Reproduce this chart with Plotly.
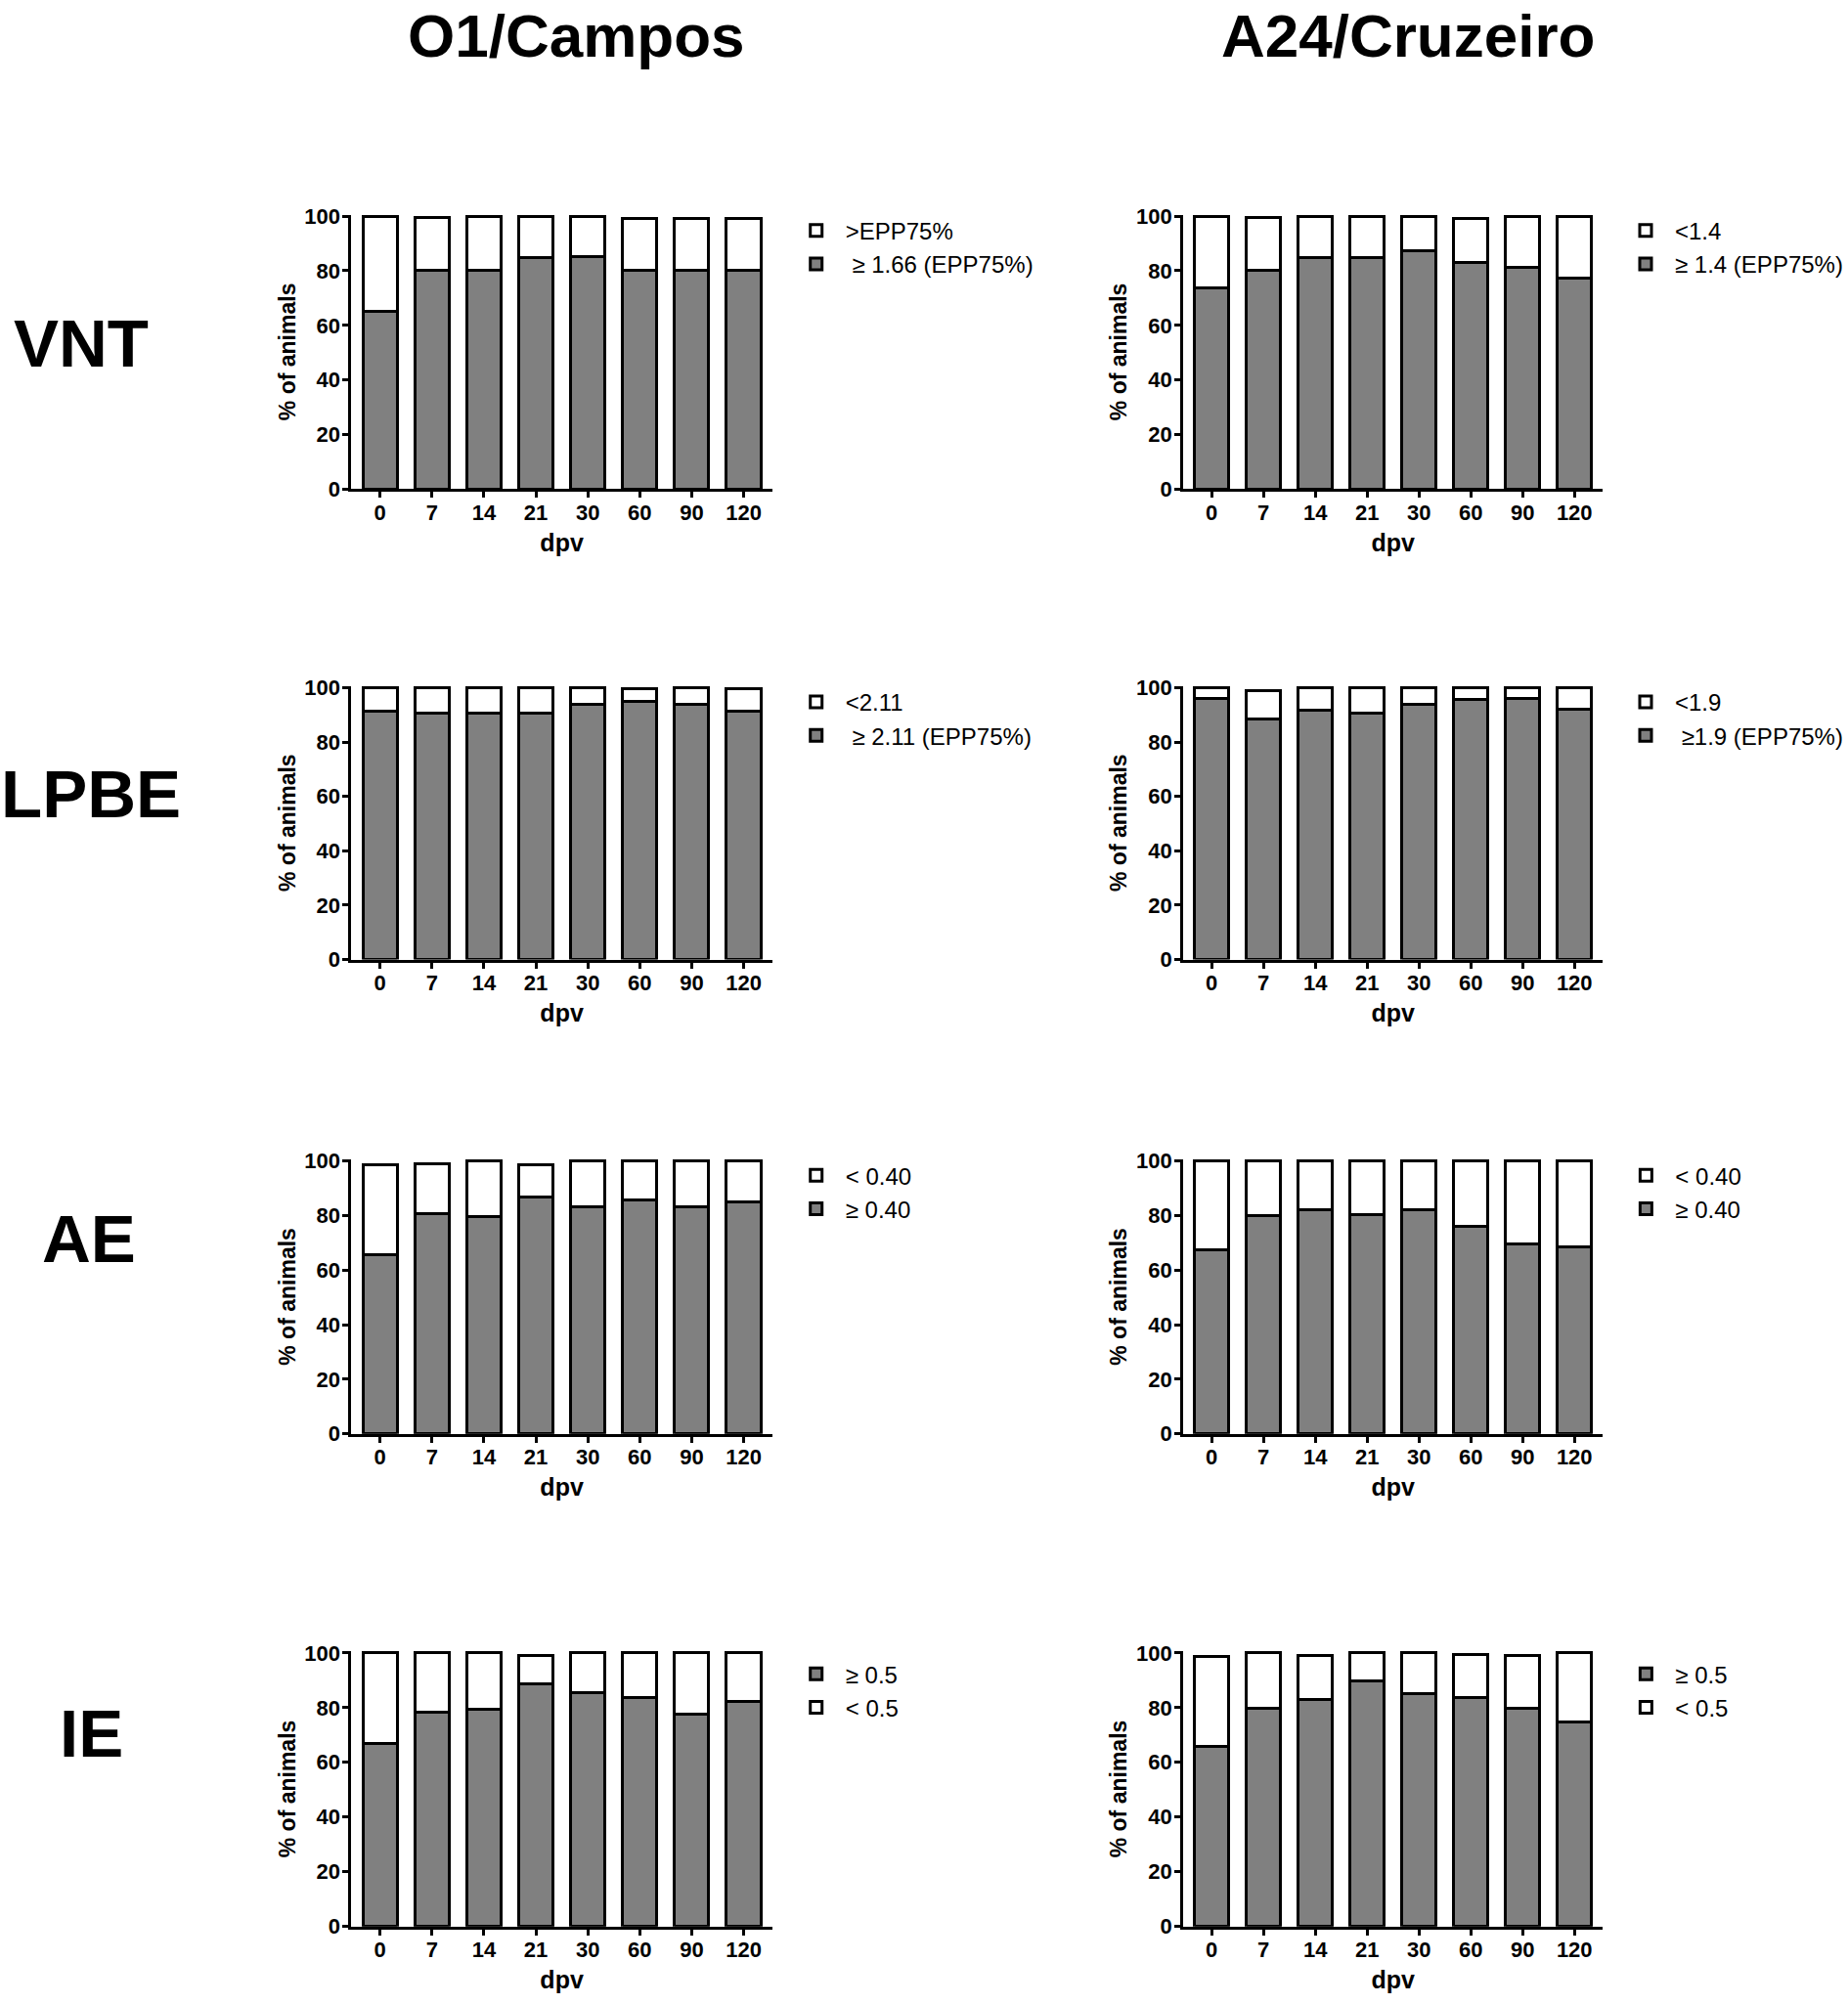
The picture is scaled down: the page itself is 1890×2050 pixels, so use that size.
import plotly.graph_objects as go

# dpv categories
days = ["0", "7", "14", "21", "30", "60", "90", "120"]

# % of animals (gray = at/above cut-off, white = below)
vnt_o1_pos = [65.2, 80.0, 80.0, 85.0, 85.2, 80.3, 80.3, 80.0]
vnt_o1_neg = [34.8, 19.5, 20.0, 15.0, 14.6, 18.7, 18.7, 19.0]
vnt_a24_pos = [73.6, 80.2, 84.9, 84.9, 87.2, 83.2, 81.1, 77.4]
vnt_a24_neg = [26.4, 19.3, 14.9, 15.1, 12.8, 15.9, 18.9, 22.6]

lpbe_o1_pos = [91.4, 90.5, 90.5, 90.5, 93.9, 94.8, 93.9, 91.3]
lpbe_o1_neg = [8.6, 9.5, 9.5, 9.5, 6.1, 4.8, 6.1, 8.3]
lpbe_a24_pos = [96.0, 88.5, 91.8, 90.5, 93.9, 95.8, 96.0, 92.2]
lpbe_a24_neg = [4.0, 10.4, 8.2, 9.5, 6.1, 4.2, 4.0, 7.8]

ae_o1_pos = [65.7, 80.9, 79.7, 86.9, 83.3, 85.6, 83.3, 85.1]
ae_o1_neg = [33.0, 18.2, 20.3, 11.8, 16.7, 14.4, 16.7, 14.9]
ae_a24_pos = [67.4, 79.9, 82.3, 80.3, 82.3, 75.9, 69.5, 68.5]
ae_a24_neg = [32.6, 20.1, 17.7, 19.7, 17.7, 24.1, 30.5, 31.5]

ie_o1_pos = [66.9, 78.2, 79.4, 88.6, 85.6, 83.7, 77.7, 82.4]
ie_o1_neg = [33.1, 21.8, 20.6, 10.6, 14.4, 16.3, 22.3, 17.6]
ie_a24_pos = [65.8, 79.8, 82.9, 89.9, 85.2, 83.8, 79.8, 74.9]
ie_a24_neg = [32.8, 20.2, 16.2, 10.1, 14.8, 15.5, 19.3, 25.1]

col_titles = ["O1/Campos", "A24/Cruzeiro"]
row_titles = ["VNT", "LPBE", "AE", "IE"]

NB = "\u00a0"
panels = [
    # row, col, gray values, white values, gray label, white label, gray listed first
    (0, 0, vnt_o1_pos, vnt_o1_neg, NB + "≥ 1.66 (EPP75%)", ">EPP75%", False),
    (0, 1, vnt_a24_pos, vnt_a24_neg, "≥ 1.4 (EPP75%)", "<1.4", False),
    (1, 0, lpbe_o1_pos, lpbe_o1_neg, NB + "≥ 2.11 (EPP75%)", "<2.11", False),
    (1, 1, lpbe_a24_pos, lpbe_a24_neg, NB + "≥1.9 (EPP75%)", "<1.9", False),
    (2, 0, ae_o1_pos, ae_o1_neg, "≥ 0.40", "< 0.40", False),
    (2, 1, ae_a24_pos, ae_a24_neg, "≥ 0.40", "< 0.40", False),
    (3, 0, ie_o1_pos, ie_o1_neg, "≥ 0.5", "< 0.5", True),
    (3, 1, ie_a24_pos, ie_a24_neg, "≥ 0.5", "< 0.5", True),
]

W, H = 1890, 2050
col_x = [(360, 791), (1212, 1642)]           # pixel span of each plot area
row_y = [(211, 495), (699, 982), (1189, 1473), (1698, 1983)]  # top (100) / bottom (0)
legend_left = [806, 1656]
legend_drop = [-6, -6, -6, 1]

narrow = "Liberation Sans Narrow, Arial Narrow, Liberation Sans, Arial"
bold = "Liberation Sans, Arial"

fig = go.Figure()
layout = {}
for i, (r, c, pos, neg, pos_lab, neg_lab, gray_first) in enumerate(panels):
    n = i + 1
    sfx = "" if n == 1 else str(n)
    leg = "legend" + sfx
    fig.add_trace(go.Bar(
        x=days, y=pos, name=pos_lab, xaxis="x" + sfx, yaxis="y" + sfx, legend=leg,
        marker=dict(color="#808080", line=dict(color="black", width=3)),
    ))
    fig.add_trace(go.Bar(
        x=days, y=neg, name=neg_lab, xaxis="x" + sfx, yaxis="y" + sfx, legend=leg,
        marker=dict(color="white", line=dict(color="black", width=3)),
    ))
    x0, x1 = col_x[c]
    top, bot = row_y[r]
    layout["xaxis" + sfx] = dict(
        domain=[x0 / W, x1 / W], anchor="y" + sfx, type="category",
        range=[-0.55, 7.55], showline=True, linecolor="black", linewidth=3,
        ticks="outside", ticklen=6, tickwidth=3, tickcolor="black",
        ticklabelstandoff=-4,
        showgrid=False, zeroline=False,
        tickfont=dict(family=narrow, size=22, color="black", weight="bold"),
        title=dict(text="dpv", standoff=11,
                   font=dict(family=narrow, size=25, color="black", weight="bold")),
    )
    layout["yaxis" + sfx] = dict(
        domain=[1 - bot / H, 1 - top / H], anchor="x" + sfx,
        range=[0, 100.6], tickvals=[0, 20, 40, 60, 80, 100],
        showline=True, linecolor="black", linewidth=3,
        ticks="outside", ticklen=6, tickwidth=3, tickcolor="black",
        ticklabelstandoff=-2,
        showgrid=False, zeroline=False,
        tickfont=dict(family=narrow, size=22, color="black", weight="bold"),
        title=dict(text="% of animals", standoff=3,
                   font=dict(family=bold, size=23, color="black", weight="bold")),
    )
    layout[leg] = dict(
        x=legend_left[c] / W, y=1 - (top + legend_drop[r]) / H,
        xanchor="left", yanchor="top", itemwidth=50,
        traceorder="normal" if gray_first else "reversed",
        bgcolor="rgba(0,0,0,0)", borderwidth=0,
        font=dict(family=narrow, size=24, color="black"),
    )

annotations = []
for c, t in enumerate(col_titles):
    annotations.append(dict(
        text=t, x=[590, 1442][c] / W, y=1 - 26 / H, xref="paper", yref="paper",
        showarrow=False, xanchor="center", yanchor="middle",
        font=dict(family=bold, size=62, color="black", weight="bold"),
    ))
for r, t in enumerate(row_titles):
    annotations.append(dict(
        text=t, x=[83, 93, 91, 94][r] / W, y=1 - [345, 811, 1271, 1783][r] / H,
        xref="paper", yref="paper", showarrow=False,
        xanchor="center", yanchor="middle",
        font=dict(family=bold, size=69, color="black", weight="bold"),
    ))

fig.update_layout(
    **layout,
    barmode="stack", bargap=0.34,
    width=W, height=H,
    margin=dict(l=0, r=0, t=0, b=0),
    paper_bgcolor="white", plot_bgcolor="white",
    annotations=annotations,
    showlegend=True,
)

# drop the browser's default 8px body margin so the figure sits at the page corner
fig.write_html("out.html", config={"displayModeBar": False},
               post_script="document.body.style.margin='0';")
